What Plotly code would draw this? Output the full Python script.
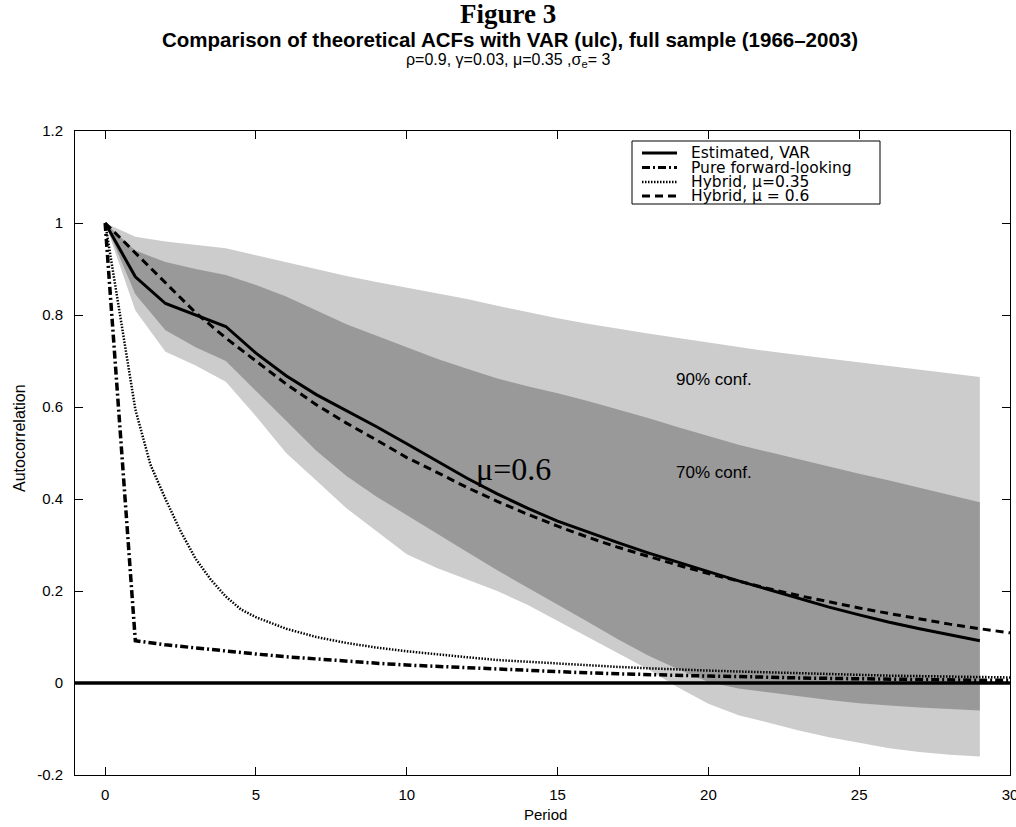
import plotly.graph_objects as go

# ---- data ----
period = list(range(30))          # 0..29 (VAR estimate and bands)
period_long = list(range(31))     # 0..30 (theoretical ACFs)

var_est = [1.0, 0.883, 0.825, 0.80, 0.775, 0.717, 0.668, 0.627, 0.592, 0.557,
           0.52, 0.482, 0.445, 0.411, 0.38, 0.352, 0.328, 0.305, 0.283, 0.262,
           0.242, 0.222, 0.203, 0.185, 0.165, 0.148, 0.132, 0.118, 0.105, 0.092]

band90_hi = [1.0, 0.97, 0.96, 0.952, 0.945, 0.93, 0.915, 0.90, 0.885, 0.872,
             0.86, 0.847, 0.835, 0.82, 0.806, 0.793, 0.781, 0.77, 0.76, 0.75,
             0.74, 0.73, 0.721, 0.713, 0.705, 0.698, 0.69, 0.681, 0.673, 0.665]
band90_lo = [1.0, 0.81, 0.72, 0.69, 0.655, 0.58, 0.50, 0.44, 0.38, 0.33,
             0.28, 0.25, 0.225, 0.20, 0.17, 0.135, 0.10, 0.065, 0.03, -0.01,
             -0.045, -0.07, -0.087, -0.103, -0.118, -0.13, -0.142, -0.15, -0.156, -0.16]
band70_hi = [1.0, 0.94, 0.915, 0.90, 0.887, 0.865, 0.84, 0.81, 0.78, 0.755,
             0.73, 0.705, 0.683, 0.662, 0.645, 0.63, 0.613, 0.595, 0.576, 0.556,
             0.537, 0.518, 0.502, 0.486, 0.471, 0.455, 0.44, 0.424, 0.408, 0.393]
band70_lo = [1.0, 0.845, 0.767, 0.73, 0.70, 0.635, 0.57, 0.505, 0.45, 0.405,
             0.365, 0.325, 0.285, 0.245, 0.208, 0.17, 0.133, 0.095, 0.06, 0.03,
             0.002, -0.012, -0.021, -0.029, -0.037, -0.044, -0.049, -0.053, -0.057, -0.06]

forward = [1.0, 0.092, 0.083, 0.076, 0.069, 0.063, 0.057, 0.052, 0.047, 0.043,
           0.039, 0.036, 0.033, 0.030, 0.027, 0.025, 0.022, 0.020, 0.018, 0.017,
           0.015, 0.014, 0.012, 0.011, 0.010, 0.009, 0.008, 0.008, 0.007, 0.006, 0.006]

hybrid06 = [1.0, 0.935, 0.87, 0.805, 0.75, 0.70, 0.65, 0.605, 0.565, 0.528,
            0.49, 0.458, 0.425, 0.395, 0.367, 0.341, 0.317, 0.295, 0.275, 0.256,
            0.238, 0.221, 0.205, 0.19, 0.176, 0.163, 0.151, 0.139, 0.128, 0.118, 0.109]

hybrid035_x = [0, 1, 1.5, 2, 2.5, 3, 3.5, 4, 4.5, 5, 6, 7, 8, 9, 10, 11, 12, 13,
               14, 15, 16, 17, 18, 19, 20, 21, 22, 23, 24, 25, 26, 27, 28, 29, 30]
hybrid035 = [1.0, 0.595, 0.475, 0.40, 0.33, 0.27, 0.225, 0.188, 0.16, 0.143,
             0.118, 0.100, 0.087, 0.077, 0.069, 0.062, 0.056, 0.050, 0.046, 0.042,
             0.038, 0.035, 0.032, 0.029, 0.027, 0.025, 0.023, 0.021, 0.019, 0.018,
             0.016, 0.015, 0.014, 0.013, 0.012]

x_ticks = [0, 5, 10, 15, 20, 25, 30]
y_ticks = [-0.2, 0, 0.2, 0.4, 0.6, 0.8, 1, 1.2]
y_ticktext = ["-0.2", "0", "0.2", "0.4", "0.6", "0.8", "1", "1.2"]

legend_names = ["Estimated, VAR", "Pure forward-looking", "Hybrid, \u03bc=0.35", "Hybrid, \u03bc = 0.6"]

# ---- geometry in page pixels (body margin removed below) ----
W, H = 1016, 827
L, R, T, B = 75, 6, 131, 52
PW, PH = W - L - R, H - T - B


def fx(px):
    return (px - L) / PW


def fy(py):
    return (H - B - py) / PH


FONT = "Liberation Sans, Arial, sans-serif"
WIDE = "DejaVu Sans, Verdana, sans-serif"
SERIF = "Liberation Serif, Times New Roman, serif"
LIGHT = "#cccccc"
DARK = "#999999"

fig = go.Figure()

# confidence bands
fig.add_trace(go.Scatter(x=period + period[::-1], y=band90_hi + band90_lo[::-1],
                         fill="toself", fillcolor=LIGHT, line=dict(width=0),
                         mode="lines", name="90% conf.", hoverinfo="skip"))
fig.add_trace(go.Scatter(x=period + period[::-1], y=band70_hi + band70_lo[::-1],
                         fill="toself", fillcolor=DARK, line=dict(width=0),
                         mode="lines", name="70% conf.", hoverinfo="skip"))

styles = [
    (period, var_est, dict(color="black", width=3, dash="solid")),
    (period_long, forward, dict(color="black", width=3.5, dash="8px,3px,2px,3px")),
    (hybrid035_x, hybrid035, dict(color="black", width=2.5, dash="1.5px,1.5px")),
    (period_long, hybrid06, dict(color="black", width=3, dash="8px,5px")),
]
for (xs, ys, ln), nm in zip(styles, legend_names):
    fig.add_trace(go.Scatter(x=xs, y=ys, mode="lines", line=ln, name=nm))

axis_common = dict(showgrid=False, zeroline=False, showline=True, linecolor="black",
                   linewidth=1, mirror="ticks", ticks="inside", ticklen=8,
                   tickcolor="black", ticklabeloverflow="allow",
                   tickfont=dict(family=FONT, size=15, color="black"))

fig.update_xaxes(range=[-1, 30], tickvals=x_ticks, ticklabelstandoff=6, **axis_common)
fig.update_yaxes(range=[-0.2, 1.2], tickvals=y_ticks, ticktext=y_ticktext,
                 ticklabelstandoff=8, **axis_common)

shapes = [dict(type="line", xref="paper", yref="y", x0=0, x1=1, y0=0, y1=0,
               line=dict(color="black", width=3.5), layer="above")]

# legend box drawn by hand to match the tight MATLAB spacing
lx0, lx1, ly0, ly1 = 632, 880, 141, 204
shapes.append(dict(type="rect", xref="paper", yref="paper",
                   x0=fx(lx0), x1=fx(lx1), y0=fy(ly1), y1=fy(ly0),
                   line=dict(color="black", width=1), fillcolor="white", layer="above"))
row_y = [153, 167.5, 182, 196]
annotations = []
for (xs, ys, ln), nm, ry in zip(styles, legend_names, row_y):
    shapes.append(dict(type="line", xref="paper", yref="paper",
                       x0=fx(642), x1=fx(677), y0=fy(ry), y1=fy(ry),
                       line=dict(color="black", width=min(ln["width"], 3), dash=ln["dash"]),
                       layer="above"))
    annotations.append(dict(xref="paper", yref="paper", x=fx(689), y=fy(ry), text=nm,
                            showarrow=False, xanchor="left", yanchor="middle",
                            font=dict(family=WIDE, size=15.5, color="black")))


def page_text(px, py, text, size, family=FONT, angle=0):
    return dict(xref="paper", yref="paper", x=fx(px), y=fy(py), text=text,
                textangle=angle, showarrow=False, xanchor="center", yanchor="middle",
                font=dict(family=family, size=size, color="black"))


annotations += [
    page_text(508, 14, "<b>Figure 3</b>", 27, SERIF),
    page_text(510, 39, "<b>Comparison of theoretical ACFs with VAR (ulc), full sample (1966\u20132003)</b>", 20.5),
    page_text(508, 61, "\u03c1=0.9, \u03b3=0.03, \u03bc=0.35 ,\u03c3<sub>e</sub>= 3", 16),
    page_text(19, 438, "Autocorrelation", 16, angle=-90),
    page_text(545, 815, "Period", 15),
    dict(x=20.2, y=0.659, text="90% conf.", showarrow=False,
         font=dict(family=FONT, size=17, color="black")),
    dict(x=20.2, y=0.457, text="70% conf.", showarrow=False,
         font=dict(family=FONT, size=17, color="black")),
    dict(x=13.55, y=0.465, text="\u03bc=0.6", showarrow=False,
         font=dict(family=SERIF, size=32, color="black")),
]

fig.update_layout(
    width=W, height=H,
    margin=dict(l=L, r=R, t=T, b=B, autoexpand=False),
    paper_bgcolor="white", plot_bgcolor="white",
    showlegend=False,
    shapes=shapes, annotations=annotations,
)

fig.write_html("out.html", config={"displayModeBar": False},
               post_script="document.body.style.margin='0';")
